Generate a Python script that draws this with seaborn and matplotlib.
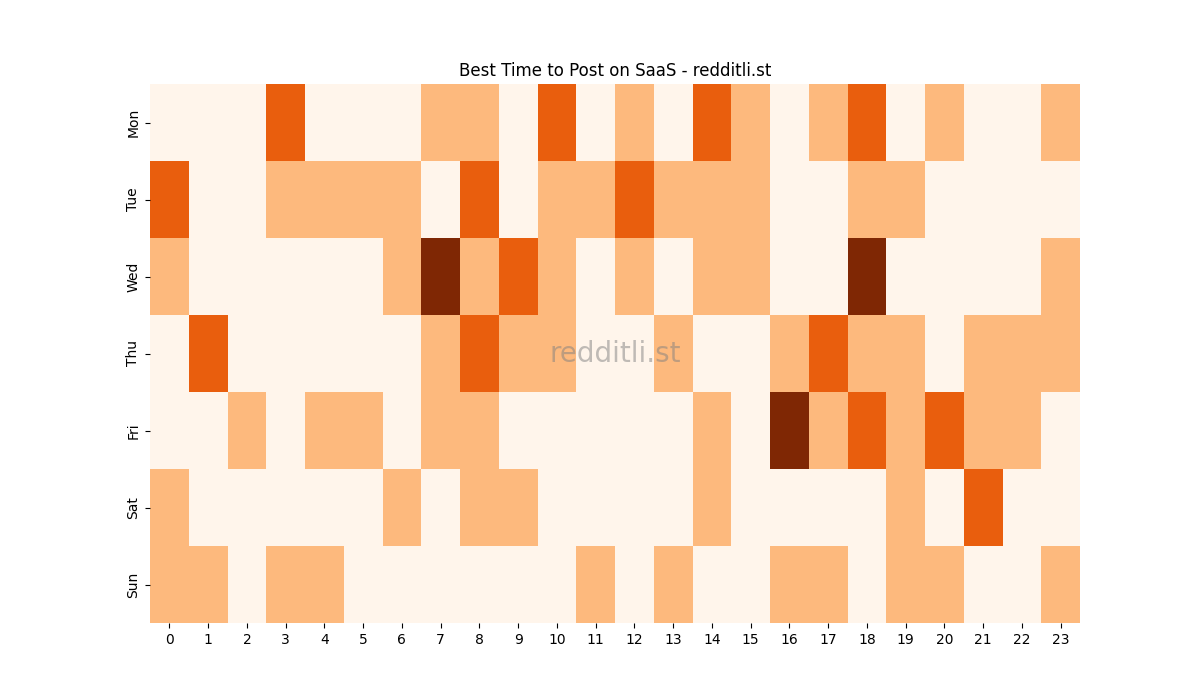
import numpy as np
import pandas as pd
import seaborn as sns
import matplotlib.pyplot as plt

days = ["Mon", "Tue", "Wed", "Thu", "Fri", "Sat", "Sun"]
hours = list(range(24))

# activity level per hour (0 = quiet ... 3 = busiest)
mon = [0, 0, 0, 2, 0, 0, 0, 1, 1, 0, 2, 0, 1, 0, 2, 1, 0, 1, 2, 0, 1, 0, 0, 1]
tue = [2, 0, 0, 1, 1, 1, 1, 0, 2, 0, 1, 1, 2, 1, 1, 1, 0, 0, 1, 1, 0, 0, 0, 0]
wed = [1, 0, 0, 0, 0, 0, 1, 3, 1, 2, 1, 0, 1, 0, 1, 1, 0, 0, 3, 0, 0, 0, 0, 1]
thu = [0, 2, 0, 0, 0, 0, 0, 1, 2, 1, 1, 0, 0, 1, 0, 0, 1, 2, 1, 1, 0, 1, 1, 1]
fri = [0, 0, 1, 0, 1, 1, 0, 1, 1, 0, 0, 0, 0, 0, 1, 0, 3, 1, 2, 1, 2, 1, 1, 0]
sat = [1, 0, 0, 0, 0, 0, 1, 0, 1, 1, 0, 0, 0, 0, 1, 0, 0, 0, 0, 1, 0, 2, 0, 0]
sun = [1, 1, 0, 1, 1, 0, 0, 0, 0, 0, 0, 1, 0, 1, 0, 0, 1, 1, 0, 1, 1, 0, 0, 1]

grid = pd.DataFrame([mon, tue, wed, thu, fri, sat, sun], index=days, columns=hours)

fig, ax = plt.subplots(figsize=(12, 7))
sns.heatmap(grid, cmap="Oranges", vmin=0, vmax=3, cbar=False, ax=ax)
ax.set_title("Best Time to Post on SaaS - redditli.st")
ax.set_xlabel("")
ax.set_ylabel("")
ax.tick_params(axis="x", rotation=0)
ax.tick_params(axis="y", rotation=90)
ax.text(0.5, 0.5, "redditli.st", transform=ax.transAxes, ha="center", va="center",
        fontsize=20, color="gray", alpha=0.5)

fig.savefig("out.png", dpi=100)
